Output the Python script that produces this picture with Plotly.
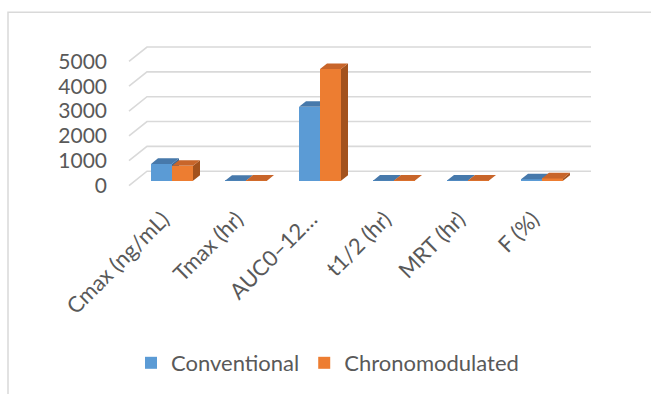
import plotly.graph_objects as go

# ---- data -------------------------------------------------------------
categories = ["Cmax (ng/mL)", "Tmax (hr)", "AUC0–12…", "t1/2 (hr)", "MRT (hr)", "F (%)"]
conventional = [680, 2, 2980, 4, 6, 60]
chronomodulated = [600, 4, 4500, 6, 9, 95]
y_ticks = [0, 1000, 2000, 3000, 4000, 5000]
series_names = ["Conventional", "Chronomodulated"]

# ---- styling ----------------------------------------------------------
FRONT_COLORS = ["#5B9BD5", "#ED7D31"]
TOP_COLORS = ["#4779AB", "#C8652A"]
SIDE_COLORS = ["#3D6996", "#A3521D"]
GRID_COLOR = "#D9D9D9"
TEXT_COLOR = "#595959"
FONT = "Lato"

# ---- pseudo-3D geometry (pixels) ---------------------------------------
W, H = 651, 394
PLOT_L, PLOT_R, PLOT_T, PLOT_B = 118, 600, 38, 192
FRONT_X0 = 129          # pixel of the left edge of the floor front
CAT_PX = 74             # pixels per category
ZERO_PX = 186.5         # pixel of value 0 on the front edge
PX_PER_UNIT = 0.025     # pixels per value unit
WALL_DX, WALL_DY = 18, 14.4     # depth of the floor / back wall
BAR_DX0, BAR_DY0 = 6, 4.8       # depth at which bar fronts stand
BAR_DX, BAR_DY = 7, 5.6         # bar depth
BAR_W_PX = 21


def ux(px):
    return px / CAT_PX


def uy(px):
    return px / PX_PER_UNIT


x_range = [-0.5 + ux(PLOT_L - FRONT_X0), -0.5 + ux(PLOT_R - FRONT_X0)]
y_range = [uy(ZERO_PX - PLOT_B), uy(ZERO_PX - PLOT_T)]

n = len(categories)
bar_w = ux(BAR_W_PX)
shift_x, shift_y = ux(BAR_DX0), uy(BAR_DY0)
dx, dy = ux(BAR_DX), uy(BAR_DY)

fig = go.Figure()

# back wall gridlines with their diagonal return to the front edge
wall_x, wall_y = [], []
for t in y_ticks:
    wall_x += [-0.5, -0.5 + ux(WALL_DX), n - 0.5 + ux(WALL_DX), None]
    wall_y += [t, t + uy(WALL_DY), t + uy(WALL_DY), None]
fig.add_trace(go.Scatter(
    x=wall_x, y=wall_y, mode="lines",
    line=dict(color=GRID_COLOR, width=1.6),
    hoverinfo="skip", showlegend=False, xaxis="x", yaxis="y",
))

# each series lives on its own overlaid axes so the right-hand cluster
# member is painted over the left-hand one
for s, values in enumerate([conventional, chronomodulated]):
    ax = str(s + 2)
    offset = (s - 0.5) * bar_w
    centers = [i + shift_x + offset for i in range(n)]
    fig.add_trace(go.Bar(
        x=centers, y=values, base=[shift_y] * n, width=bar_w,
        marker=dict(color=FRONT_COLORS[s], line=dict(width=0)),
        name=series_names[s], xaxis="x" + ax, yaxis="y" + ax,
        hovertemplate="%{text}: %{y}<extra>" + series_names[s] + "</extra>",
        text=categories, textposition="none",
    ))
    top_x, top_y, side_x, side_y = [], [], [], []
    for c, v in zip(centers, values):
        xl, xr = c - bar_w / 2, c + bar_w / 2
        b, t = shift_y, shift_y + v
        top_x += [xl, xl + dx, xr + dx, xr, xl, None]
        top_y += [t, t + dy, t + dy, t, t, None]
        side_x += [xr, xr + dx, xr + dx, xr, xr, None]
        side_y += [b, b + dy, t + dy, t, b, None]
    for fx, fy, col in [(side_x, side_y, SIDE_COLORS[s]), (top_x, top_y, TOP_COLORS[s])]:
        fig.add_trace(go.Scatter(
            x=fx, y=fy, mode="lines", fill="toself", fillcolor=col,
            line=dict(width=0, color=col), hoverinfo="skip",
            showlegend=False, xaxis="x" + ax, yaxis="y" + ax,
        ))

hidden = dict(visible=False, fixedrange=True)
fig.update_layout(
    width=W, height=H,
    margin=dict(l=PLOT_L, r=W - PLOT_R, t=PLOT_T, b=H - PLOT_B, pad=0),
    paper_bgcolor="white", plot_bgcolor="rgba(0,0,0,0)",
    font=dict(family=FONT, size=21, color=TEXT_COLOR),
    bargap=0,
    xaxis=dict(range=x_range, tickvals=[i + shift_x for i in range(n)],
               ticktext=categories, tickangle=-45, showgrid=False,
               zeroline=False, showline=False, ticks="", ticklabelstandoff=10,
               ticklabelshift=-9, tickfont=dict(size=22), fixedrange=True),
    yaxis=dict(range=y_range, tickvals=y_ticks, showgrid=False,
               zeroline=False, showline=False, ticks="", ticklabelstandoff=10,
               tickfont=dict(size=21), fixedrange=True),
    xaxis2=dict(overlaying="x", range=x_range, **hidden),
    yaxis2=dict(overlaying="y", range=y_range, **hidden),
    xaxis3=dict(overlaying="x", range=x_range, **hidden),
    yaxis3=dict(overlaying="y", range=y_range, **hidden),
    legend=dict(orientation="h", xanchor="left", yanchor="middle",
                x=(131 - PLOT_L) / (PLOT_R - PLOT_L),
                y=(PLOT_B - 363) / (PLOT_B - PLOT_T),
                font=dict(size=22, color=TEXT_COLOR), itemwidth=30,
                bgcolor="rgba(0,0,0,0)"),
    shapes=[dict(type="rect", xref="paper", yref="paper",
                 x0=(8 - PLOT_L) / (PLOT_R - PLOT_L),
                 x1=(W + 20 - PLOT_L) / (PLOT_R - PLOT_L),
                 y0=(PLOT_B - H - 20) / (PLOT_B - PLOT_T),
                 y1=(PLOT_B - 12) / (PLOT_B - PLOT_T),
                 line=dict(color=GRID_COLOR, width=1.5), layer="below")],
)

fig.write_html("out.html")
